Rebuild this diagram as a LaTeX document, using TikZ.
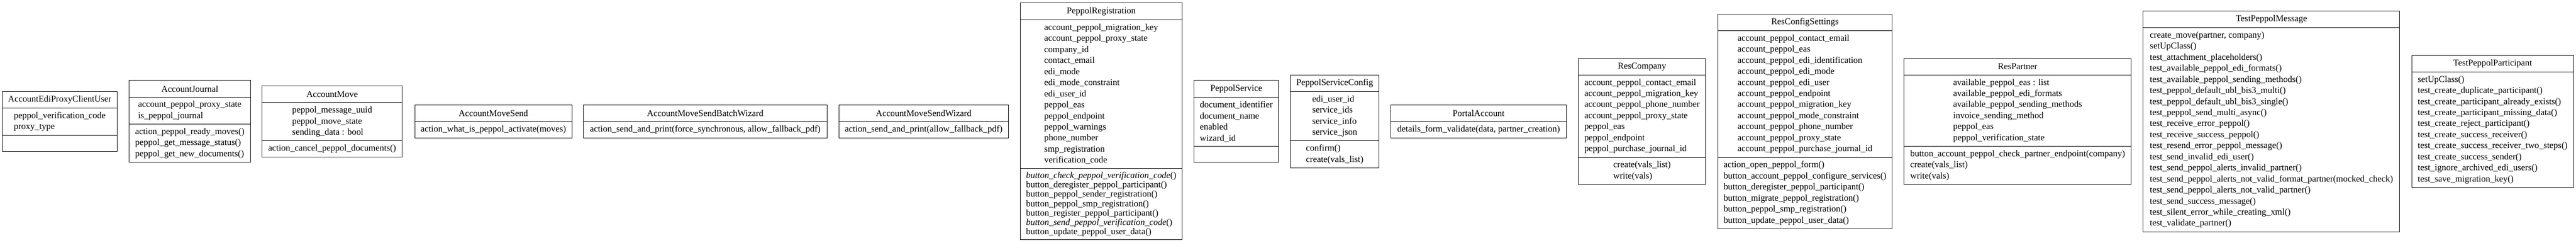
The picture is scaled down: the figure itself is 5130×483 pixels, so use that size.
\documentclass[tikz,border=0pt]{standalone}
\usepackage{fontspec}
\setmainfont{Liberation Serif}
\usetikzlibrary{positioning}

\newcommand{\umlfont}{\fontsize{17.9}{22}\selectfont}
\newcommand{\umlfonttight}{\fontsize{17.9}{18.6}\selectfont}

\tikzset{
	umlhead/.style={draw=black, line width=1pt, inner sep=0pt, outer sep=0pt, minimum height=33pt, anchor=north west, font=\umlfont},
	umlpart/.style={draw=black, line width=1pt, inner sep=0pt, outer sep=0pt, align=left, font=\umlfont},
	boxw/.style={minimum width=#1pt},
	lines/.style={minimum height=22*#1+10},
	emptypart/.style={minimum height=32pt}
}

\begin{document}
\begin{tikzpicture}[x=1pt, y=-1pt]
			\useasboundingbox (0,0) rectangle (5130,483);
			
			% account_edi_proxy_client
			\node[umlhead, boxw=228] (ediuser) at (5,182) {AccountEdiProxyClientUser};
			\node[umlpart, boxw=228, lines=2, below=0pt of ediuser] (ediuser-attrs) {peppol\_verification\_code\\proxy\_type};
			\node[umlpart, boxw=228, emptypart, below=0pt of ediuser-attrs] (ediuser-ops) {};
			
			% journal
			\node[umlhead, boxw=242] (journal) at (257,160) {AccountJournal};
			\node[umlpart, boxw=242, lines=2, below=0pt of journal] (journal-attrs) {account\_peppol\_proxy\_state\\is\_peppol\_journal};
			\node[umlpart, boxw=242, lines=3, below=0pt of journal-attrs] (journal-ops) {action\_peppol\_ready\_moves()\\peppol\_get\_message\_status()\\peppol\_get\_new\_documents()};
			
			% move
			\node[umlhead, boxw=279] (move) at (522,171) {AccountMove};
			\node[umlpart, boxw=279, lines=3, below=0pt of move] (move-attrs) {peppol\_message\_uuid\\peppol\_move\_state\\sending\_data : bool};
			\node[umlpart, boxw=279, emptypart, below=0pt of move-attrs] (move-ops) {action\_cancel\_peppol\_documents()};
			
			% send wizards
			\node[umlhead, boxw=313] (movesend) at (826,209) {AccountMoveSend};
			\node[umlpart, boxw=313, emptypart, below=0pt of movesend] (movesend-ops) {action\_what\_is\_peppol\_activate(moves)};
			
			\node[umlhead, boxw=485] (batchwiz) at (1162,209) {AccountMoveSendBatchWizard};
			\node[umlpart, boxw=485, emptypart, below=0pt of batchwiz] (batchwiz-ops) {action\_send\_and\_print(force\_synchronous, allow\_fallback\_pdf)};
			
			\node[umlhead, boxw=337] (sendwiz) at (1671,209) {AccountMoveSendWizard};
			\node[umlpart, boxw=337, emptypart, below=0pt of sendwiz] (sendwiz-ops) {action\_send\_and\_print(allow\_fallback\_pdf)};
			
			% registration
			\node[umlhead, boxw=322] (registration) at (2032,6) {PeppolRegistration};
			\node[umlpart, boxw=322, lines=13, below=0pt of registration] (registration-attrs) {account\_peppol\_migration\_key\\account\_peppol\_proxy\_state\\company\_id\\contact\_email\\edi\_mode\\edi\_mode\_constraint\\edi\_user\_id\\peppol\_eas\\peppol\_endpoint\\peppol\_warnings\\phone\_number\\smp\_registration\\verification\_code};
			\node[umlpart, boxw=322, minimum height=142, font=\umlfonttight, below=0pt of registration-attrs] (registration-ops) {\textit{button\_check\_peppol\_verification\_code}()\\button\_deregister\_peppol\_participant()\\button\_peppol\_sender\_registration()\\button\_peppol\_smp\_registration()\\button\_register\_peppol\_participant()\\\textit{button\_send\_peppol\_verification\_code}()\\button\_update\_peppol\_user\_data()};
			
			% services
			\node[umlhead, boxw=168] (service) at (2378,160) {PeppolService};
			\node[umlpart, boxw=168, lines=4, below=0pt of service] (service-attrs) {document\_identifier\\document\_name\\enabled\\wizard\_id};
			\node[umlpart, boxw=168, emptypart, below=0pt of service-attrs] (service-ops) {};
			
			\node[umlhead, boxw=176] (servicecfg) at (2570,149) {PeppolServiceConfig};
			\node[umlpart, boxw=176, lines=4, below=0pt of servicecfg] (servicecfg-attrs) {edi\_user\_id\\service\_ids\\service\_info\\service\_json};
			\node[umlpart, boxw=176, lines=2, below=0pt of servicecfg-attrs] (servicecfg-ops) {confirm()\\create(vals\_list)};
			
			% portal
			\node[umlhead, boxw=349] (portal) at (2770,209) {PortalAccount};
			\node[umlpart, boxw=349, emptypart, below=0pt of portal] (portal-ops) {details\_form\_validate(data, partner\_creation)};
			
			% company
			\node[umlhead, boxw=254] (company) at (3143,116) {ResCompany};
			\node[umlpart, boxw=254, lines=7, below=0pt of company] (company-attrs) {account\_peppol\_contact\_email\\account\_peppol\_migration\_key\\account\_peppol\_phone\_number\\account\_peppol\_proxy\_state\\peppol\_eas\\peppol\_endpoint\\peppol\_purchase\_journal\_id};
			\node[umlpart, boxw=254, lines=2, below=0pt of company-attrs] (company-ops) {create(vals\_list)\\write(vals)};
			
			% settings
			\node[umlhead, boxw=347] (settings) at (3421,28) {ResConfigSettings};
			\node[umlpart, boxw=347, lines=11, below=0pt of settings] (settings-attrs) {account\_peppol\_contact\_email\\account\_peppol\_eas\\account\_peppol\_edi\_identification\\account\_peppol\_edi\_mode\\account\_peppol\_edi\_user\\account\_peppol\_endpoint\\account\_peppol\_migration\_key\\account\_peppol\_mode\_constraint\\account\_peppol\_phone\_number\\account\_peppol\_proxy\_state\\account\_peppol\_purchase\_journal\_id};
			\node[umlpart, boxw=347, lines=6, below=0pt of settings-attrs] (settings-ops) {action\_open\_peppol\_form()\\button\_account\_peppol\_configure\_services()\\button\_deregister\_peppol\_participant()\\button\_migrate\_peppol\_registration()\\button\_peppol\_smp\_registration()\\button\_update\_peppol\_user\_data()};
			
			% partner
			\node[umlhead, boxw=452] (partner) at (3792,116) {ResPartner};
			\node[umlpart, boxw=452, lines=6, below=0pt of partner] (partner-attrs) {available\_peppol\_eas : list\\available\_peppol\_edi\_formats\\available\_peppol\_sending\_methods\\invoice\_sending\_method\\peppol\_eas\\peppol\_verification\_state};
			\node[umlpart, boxw=452, lines=3, below=0pt of partner-attrs] (partner-ops) {button\_account\_peppol\_check\_partner\_endpoint(company)\\create(vals\_list)\\write(vals)};
			
			% tests
			\node[umlhead, boxw=511] (testmsg) at (4268,22) {TestPeppolMessage};
			\node[umlpart, boxw=511, lines=18, below=0pt of testmsg] (testmsg-ops) {create\_move(partner, company)\\setUpClass()\\test\_attachment\_placeholders()\\test\_available\_peppol\_edi\_formats()\\test\_available\_peppol\_sending\_methods()\\test\_peppol\_default\_ubl\_bis3\_multi()\\test\_peppol\_default\_ubl\_bis3\_single()\\test\_peppol\_send\_multi\_async()\\test\_receive\_error\_peppol()\\test\_receive\_success\_peppol()\\test\_resend\_error\_peppol\_message()\\test\_send\_invalid\_edi\_user()\\test\_send\_peppol\_alerts\_invalid\_partner()\\test\_send\_peppol\_alerts\_not\_valid\_format\_partner(mocked\_check)\\test\_send\_peppol\_alerts\_not\_valid\_partner()\\test\_send\_success\_message()\\test\_silent\_error\_while\_creating\_xml()\\test\_validate\_partner()};
			
			\node[umlhead, boxw=322] (testpart) at (4803,110) {TestPeppolParticipant};
			\node[umlpart, boxw=322, lines=10, below=0pt of testpart] (testpart-ops) {setUpClass()\\test\_create\_duplicate\_participant()\\test\_create\_participant\_already\_exists()\\test\_create\_participant\_missing\_data()\\test\_create\_reject\_participant()\\test\_create\_success\_receiver()\\test\_create\_success\_receiver\_two\_steps()\\test\_create\_success\_sender()\\test\_ignore\_archived\_edi\_users()\\test\_save\_migration\_key()};
		\end{tikzpicture}
\end{document}
